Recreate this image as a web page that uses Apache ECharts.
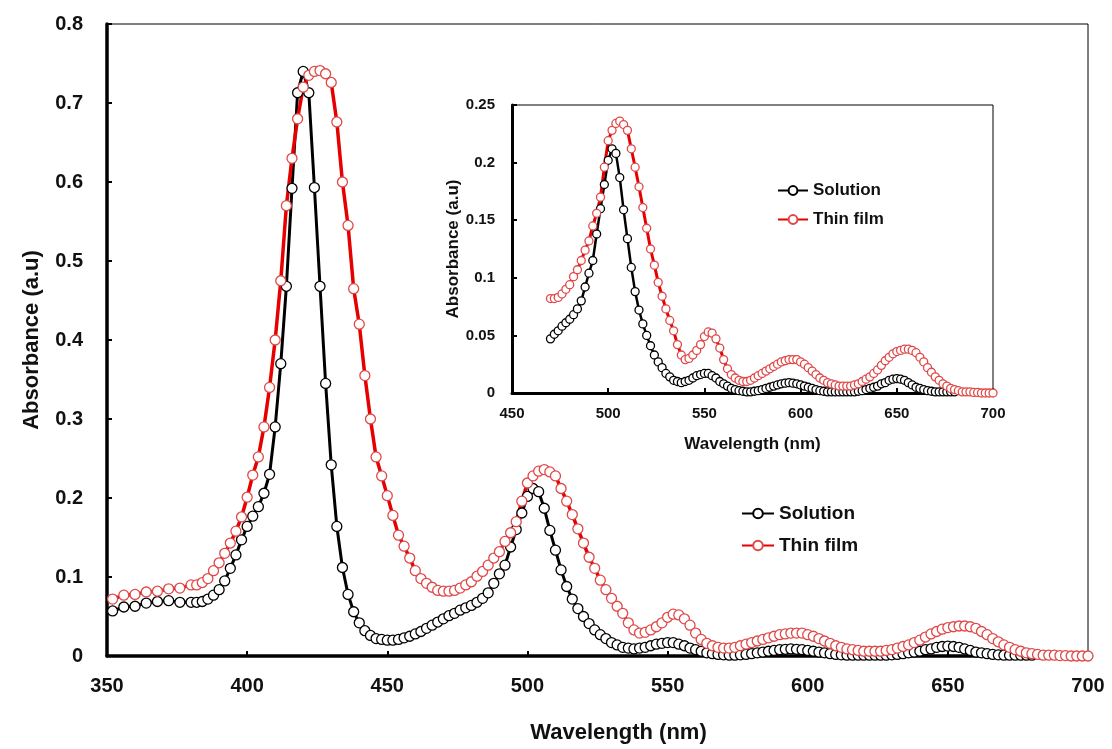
<!DOCTYPE html>
<html><head><meta charset="utf-8">
<script src="https://cdn.jsdelivr.net/npm/echarts@6/dist/echarts.min.js"></script>
<style>html,body{margin:0;padding:0;background:#fff}#c{width:1112px;height:749px}</style>
</head><body><div id="c"></div>
<script>
// Wavelength grid (nm)
const wavelength = [352,356,360,364,368,372,376,380,
382,384,386,388,390,392,394,396,398,400,
402,404,406,408,410,412,414,416,418,420,
422,424,426,428,430,432,434,436,438,440,
442,444,446,448,450,452,454,456,458,460,
462,464,466,468,470,472,474,476,478,480,
482,484,486,488,490,492,494,496,498,500,
502,504,506,508,510,512,514,516,518,520,
522,524,526,528,530,532,534,536,538,540,
542,544,546,548,550,552,554,556,558,560,
562,564,566,568,570,572,574,576,578,580,
582,584,586,588,590,592,594,596,598,600,
602,604,606,608,610,612,614,616,618,620,
622,624,626,628,630,632,634,636,638,640,
642,644,646,648,650,652,654,656,658,660,
662,664,666,668,670,672,674,676,678,680,
682,684,686,688,690,692,694,696,698,700];

const solution = [0.057,0.062,0.063,0.067,0.069,0.070,0.068,0.068,
0.068,0.069,0.072,0.077,0.084,0.095,0.111,0.128,0.147,0.164,
0.177,0.189,0.206,0.230,0.290,0.370,0.468,0.592,0.713,0.740,
0.713,0.593,0.468,0.345,0.242,0.164,0.112,0.078,0.056,0.042,
0.032,0.026,0.022,0.021,0.020,0.020,0.021,0.023,0.025,0.028,
0.031,0.035,0.039,0.043,0.047,0.051,0.054,0.058,0.061,0.064,
0.068,0.073,0.080,0.092,0.104,0.115,0.138,0.160,0.181,0.202,
0.212,0.208,0.187,0.159,0.134,0.109,0.088,0.072,0.060,0.050,
0.041,0.033,0.027,0.022,0.017,0.014,0.011,0.010,0.009,0.010,
0.011,0.013,0.015,0.016,0.017,0.017,0.015,0.013,0.010,0.008,
0.006,0.004,0.003,0.002,0.0015,0.001,0.001,0.0015,0.002,0.003,
0.004,0.005,0.006,0.007,0.008,0.0085,0.009,0.0085,0.008,0.007,
0.006,0.005,0.004,0.003,0.002,0.0015,0.001,0.001,0.001,0.001,
0.001,0.001,0.001,0.001,0.0015,0.002,0.003,0.004,0.005,0.006,
0.008,0.009,0.011,0.012,0.0125,0.012,0.011,0.009,0.007,0.005,
0.004,0.003,0.002,0.0015,0.001,0.001,0.001,0.001,0.001,0.001,
null,null,null,null,null,null,null,null,null,null];

const thinFilm = [0.072,0.077,0.078,0.081,0.082,0.085,0.086,0.090,
0.090,0.093,0.098,0.108,0.118,0.130,0.143,0.158,0.176,0.201,
0.229,0.252,0.290,0.340,0.400,0.475,0.570,0.630,0.680,0.720,
0.735,0.740,0.741,0.737,0.726,0.676,0.600,0.545,0.465,0.420,
0.355,0.300,0.252,0.228,0.203,0.178,0.153,0.139,0.124,0.108,
0.098,0.092,0.087,0.083,0.082,0.082,0.083,0.086,0.090,0.094,
0.101,0.107,0.115,0.124,0.132,0.145,0.156,0.170,0.196,0.219,
0.228,0.234,0.236,0.233,0.228,0.212,0.196,0.179,0.161,0.143,
0.125,0.111,0.096,0.084,0.073,0.063,0.054,0.042,0.033,0.029,
0.030,0.033,0.037,0.042,0.049,0.053,0.052,0.047,0.039,0.029,
0.021,0.016,0.013,0.011,0.010,0.010,0.011,0.013,0.015,0.017,
0.019,0.021,0.023,0.025,0.027,0.028,0.029,0.029,0.029,0.027,
0.025,0.022,0.019,0.016,0.013,0.011,0.009,0.008,0.007,0.006,
0.006,0.006,0.006,0.007,0.008,0.010,0.012,0.014,0.017,0.020,
0.024,0.028,0.031,0.034,0.036,0.037,0.038,0.038,0.037,0.035,
0.031,0.027,0.022,0.018,0.014,0.011,0.008,0.006,0.004,0.003,
0.002,0.001,0.001,0.001,0.0005,0.0005,0,0,0,0];

const seriesNames = ['Solution', 'Thin film'];
const insetStart = 470;

const pairs = arr => wavelength.map((w, i) => [w, arr[i]]);
const insetPairs = arr => wavelength.map((w, i) => [w, arr[i]]).filter(p => p[0] >= insetStart);

const FONT = 'Liberation Sans, Arial, sans-serif';
const txt = (size) => ({fontFamily: FONT, fontSize: size, fontWeight: 'bold', color: '#111'});

const chart = echarts.init(document.getElementById('c'), null, {renderer: 'canvas'});

function axisX(grid, min, max, interval, labelSize, margin, nameSize, nameGap, pad, thick) {
  return {
    type: 'value', gridIndex: grid, min: min, max: max, interval: interval,
    axisLine: {onZero: false, lineStyle: {color: '#000', width: thick}},
    axisTick: {inside: true, length: 5, lineStyle: {color: '#000', width: 2}},
    axisLabel: Object.assign(txt(labelSize), {margin: margin}),
    splitLine: {show: false},
    name: 'Wavelength (nm)', nameLocation: 'middle', nameGap: nameGap,
    nameTextStyle: Object.assign(txt(nameSize), {padding: pad})
  };
}
function axisY(grid, min, max, interval, labelSize, margin, nameSize, nameGap, thick) {
  return {
    type: 'value', gridIndex: grid, min: min, max: max, interval: interval,
    axisLine: {onZero: false, lineStyle: {color: '#000', width: thick}},
    axisTick: {inside: true, length: 5, lineStyle: {color: '#000', width: 2}},
    axisLabel: Object.assign(txt(labelSize), {margin: margin}),
    splitLine: {show: false},
    name: 'Absorbance (a.u)', nameLocation: 'middle', nameGap: nameGap,
    nameTextStyle: txt(nameSize)
  };
}
function lineSeries(name, data, xi, color, border, width, size) {
  return {
    name: name, type: 'line', xAxisIndex: xi, yAxisIndex: xi, data: data,
    symbol: 'circle', symbolSize: size, showSymbol: true, showAllSymbol: true,
    itemStyle: {color: '#fff', borderColor: border, borderWidth: 1.3},
    lineStyle: {color: color, width: width},
    emphasis: {disabled: true}, silent: true, connectNulls: false
  };
}

chart.setOption({
  animation: false,
  backgroundColor: '#fff',
  grid: [
    {left: 107, top: 24, width: 981, height: 634, show: true, borderColor: '#000', borderWidth: 1, backgroundColor: 'transparent'},
    {left: 512, top: 105, width: 481, height: 288, show: true, borderColor: '#000', borderWidth: 1, backgroundColor: '#fff'}
  ],
  xAxis: [
    axisX(0, 350, 700, 50, 20, 20, 22, 66, [0, 0, 0, 42], 3.5),
    axisX(1, 450, 700, 50, 15, 13, 17, 43, [0, 0, 0, 0], 3)
  ],
  yAxis: [
    axisY(0, 0, 0.8, 0.1, 20, 24, 22, 64, 3.5),
    axisY(1, 0, 0.25, 0.05, 15, 17, 17, 46, 3)
  ],
  legend: [
    {data: seriesNames, orient: 'vertical', left: 736, top: 499, itemWidth: 32, itemHeight: 12, itemGap: 13, itemGap2: 0,
     textStyle: txt(19), selectedMode: false},
    {data: seriesNames, orient: 'vertical', left: 772, top: 177, itemWidth: 30, itemHeight: 11, itemGap: 12,
     textStyle: txt(17), selectedMode: false}
  ],
  series: [
    lineSeries(seriesNames[0], pairs(solution), 0, '#000', '#000', 3, 10),
    lineSeries(seriesNames[1], pairs(thinFilm), 0, '#e60000', '#e04848', 3.5, 10),
    lineSeries(seriesNames[0], insetPairs(solution), 1, '#000', '#000', 2.5, 8),
    lineSeries(seriesNames[1], insetPairs(thinFilm), 1, '#e60000', '#e04848', 3, 8)
  ]
});
</script>
</body></html>
